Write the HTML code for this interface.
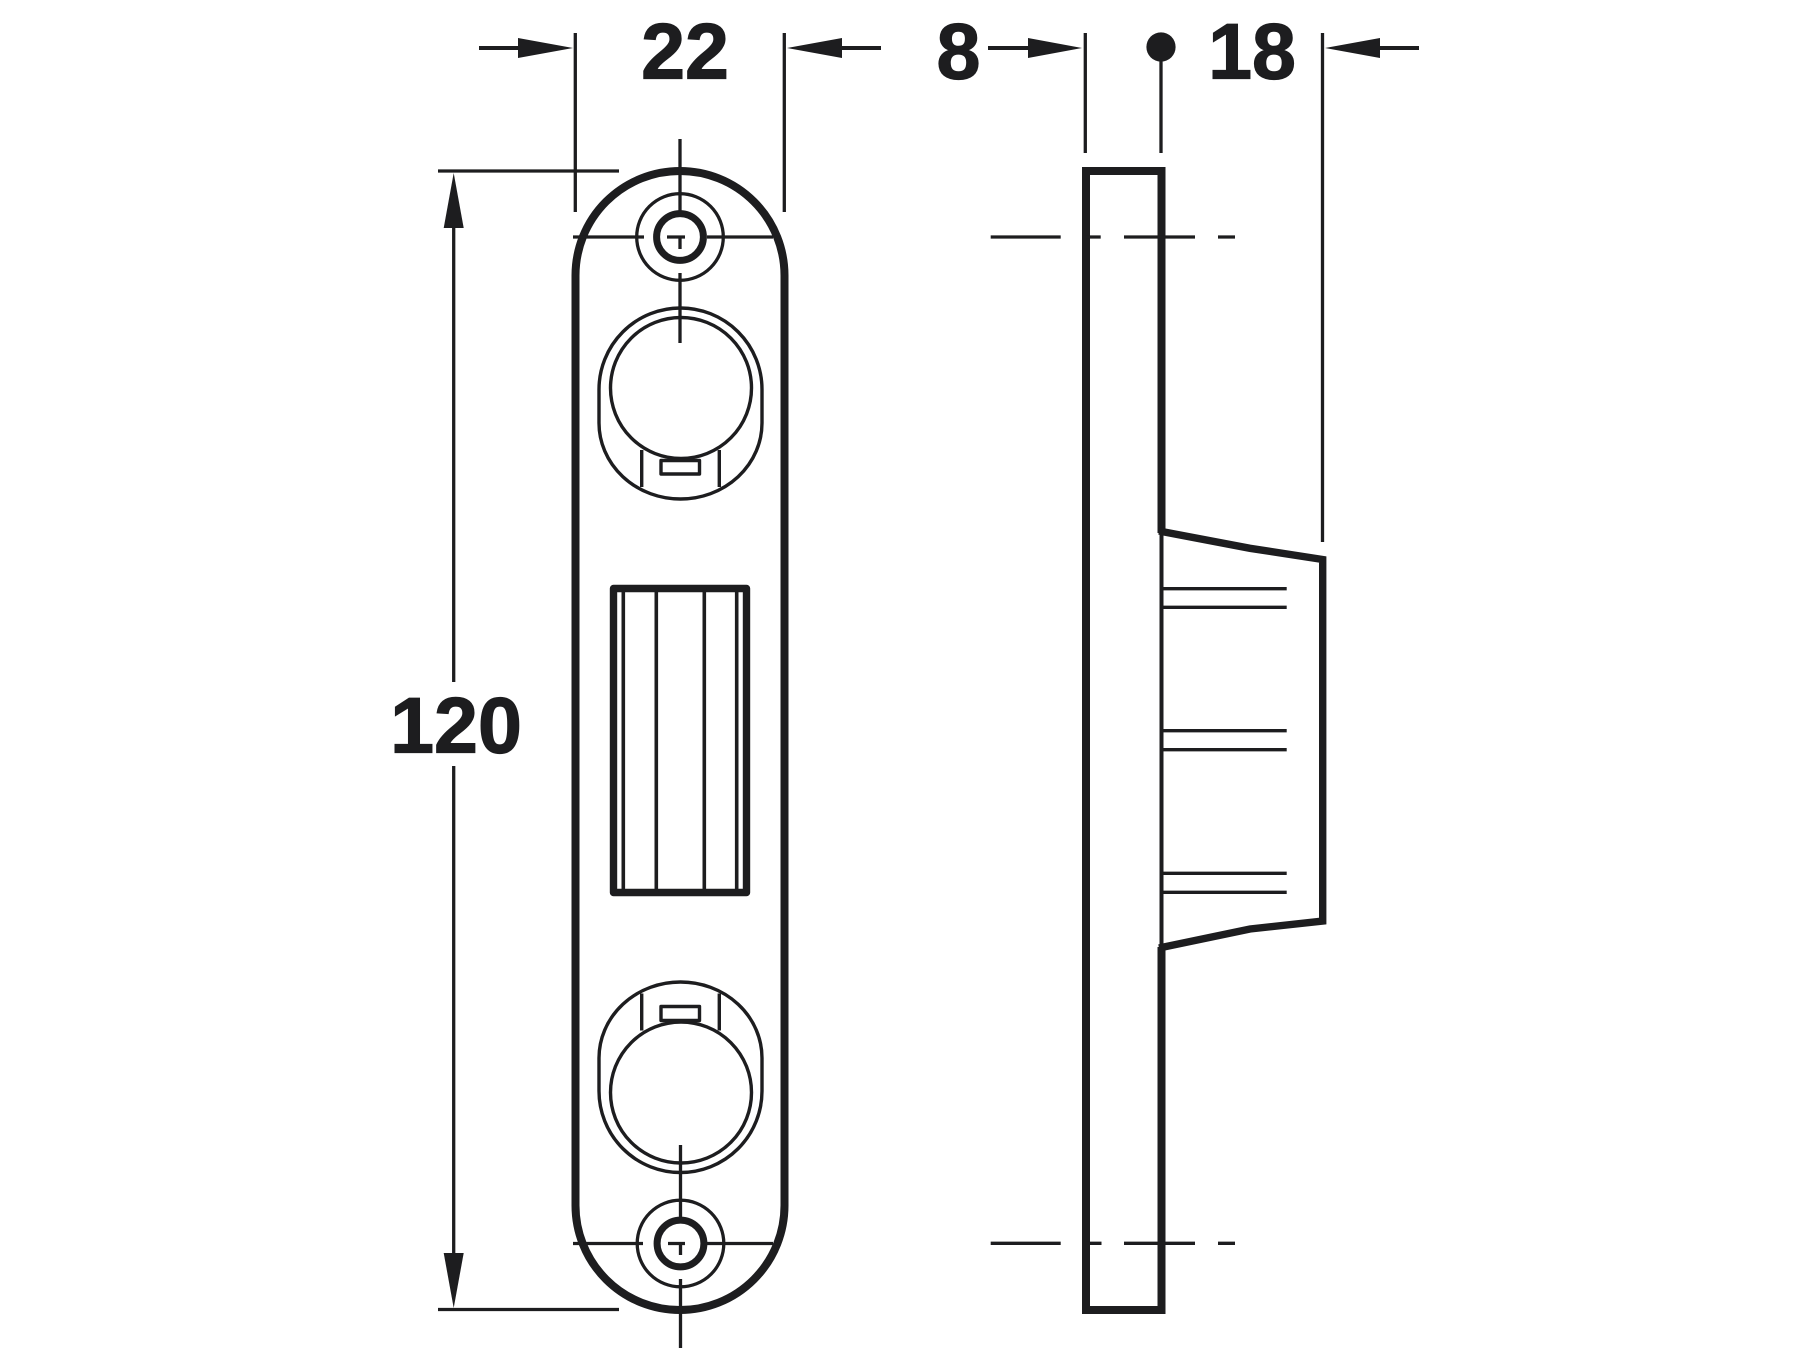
<!DOCTYPE html>
<html>
<head>
<meta charset="utf-8">
<style>
html,body{margin:0;padding:0;background:#fff}
svg{display:block}
text{font-family:"Liberation Sans",sans-serif;font-weight:700;font-size:79px;fill:#1d1d1f;stroke:#1d1d1f;stroke-width:1.2px;text-anchor:middle}
</style>
</head>
<body>
<svg width="1800" height="1350" viewBox="0 0 1800 1350" xmlns="http://www.w3.org/2000/svg">
<rect width="1800" height="1350" fill="#fff"/>
<g fill="none" stroke="#1d1d1f" stroke-linejoin="round">
  <!-- front plate -->
  <path d="M575.5 275.5A104.5 104.5 0 0 1 784.5 275.5V1205.5A104.5 104.5 0 0 1 575.5 1205.5Z" stroke-width="8"/>
  <!-- center strike -->
  <rect x="613.5" y="588.5" width="133" height="304" stroke-width="7.4"/>
  <g stroke-width="3.6">
    <path d="M623.3 588V892M656.3 588V892M704.3 588V892M736.7 588V892"/>
  </g>
  <!-- screws -->
  <g stroke-width="3.3">
    <circle cx="680" cy="237" r="43.3"/>
    <circle cx="680.5" cy="1243.5" r="43.3"/>
  </g>
  <g stroke-width="7">
    <circle cx="680" cy="237" r="23.4"/>
    <circle cx="680.5" cy="1243.5" r="23.4"/>
  </g>
  <!-- upper magnet -->
  <g stroke-width="3.4">
    <circle cx="681" cy="388" r="70.5"/>
    <path d="M599 423V389.5A81.5 81.5 0 0 1 762 389.5V423A81.5 76 0 0 1 599 423Z"/>
    <path d="M641.7 450V487M719.3 450V487"/>
    <rect x="661" y="460.5" width="38.5" height="13.5"/>
    <!-- lower magnet -->
    <circle cx="681" cy="1092.5" r="70.5"/>
    <path d="M599 1058V1091A81.5 81.5 0 0 0 762 1091V1058A81.5 76 0 0 0 599 1058Z"/>
    <path d="M641.7 993.5V1030.5M719.3 993.5V1030.5"/>
    <rect x="661" y="1006.5" width="38.5" height="14"/>
  </g>
  <!-- centre lines -->
  <g stroke-width="3.3">
    <path d="M680 139V211M680 273V343"/>
    <path d="M573 237H644M707 237H773"/>
    <path d="M667 237H685M680 237V249"/>
    <path d="M680.5 1145V1217M680.5 1279V1348"/>
    <path d="M573 1243.5H643M707 1243.5H773"/>
    <path d="M668 1243.5H685M680.5 1243.5V1255"/>
    <!-- extension lines -->
    <path d="M575.3 33V212M784.3 33V212"/>
    <path d="M438 171H619M438 1309.5H619"/>
    <path d="M1085.3 33V153M1161 47V153M1322.5 33V542"/>
    <!-- dimension shafts -->
    <path d="M453.7 220V682M453.7 766V1262"/>
  </g>
  <g stroke-width="4">
    <path d="M479 48H525M881 48H835M988 48H1035M1419 48H1372"/>
  </g>
  <!-- side view -->
  <path d="M1161.5 533V171H1086V1310H1161.5V947" stroke-width="8" stroke-linejoin="miter"/>
  <path d="M1161.5 530V950" stroke-width="4"/>
  <path d="M1159 531L1250 548.3L1322.7 559.5V921L1250 929L1159 948" stroke-width="7.4" stroke-linejoin="miter"/>
  <g stroke-width="3.3">
    <path d="M1163 588.7H1286.7M1163 607.3H1286.7M1163 730.7H1286.7M1163 749.7H1286.7M1163 873.3H1286.7M1163 892.3H1286.7"/>
    <path d="M990.7 237H1060.7M1086 237H1100.7M1124 237H1195M1218 237H1235"/>
    <path d="M990.7 1243.3H1060.7M1086 1243.3H1101.5M1124 1243.3H1195M1218 1243.3H1235"/>
  </g>
</g>
<g fill="#1d1d1f" stroke="none">
  <!-- arrowheads -->
  <path d="M518 38L573 48L518 58Z"/>
  <path d="M842 38L787 48L842 58Z"/>
  <path d="M1028 38L1082 48L1028 58Z"/>
  <path d="M1380 38L1325 48L1380 58Z"/>
  <path d="M443.7 228L453.7 173L463.7 228Z"/>
  <path d="M443.7 1253L453.7 1308L463.7 1253Z"/>
  <circle cx="1161" cy="47" r="14.6"/>
</g>
<text x="685" y="78.5">22</text>
<text x="958.5" y="78.5">8</text>
<text x="1252" y="78.5">18</text>
<text x="456" y="752.5">120</text>
</svg>
</body>
</html>
